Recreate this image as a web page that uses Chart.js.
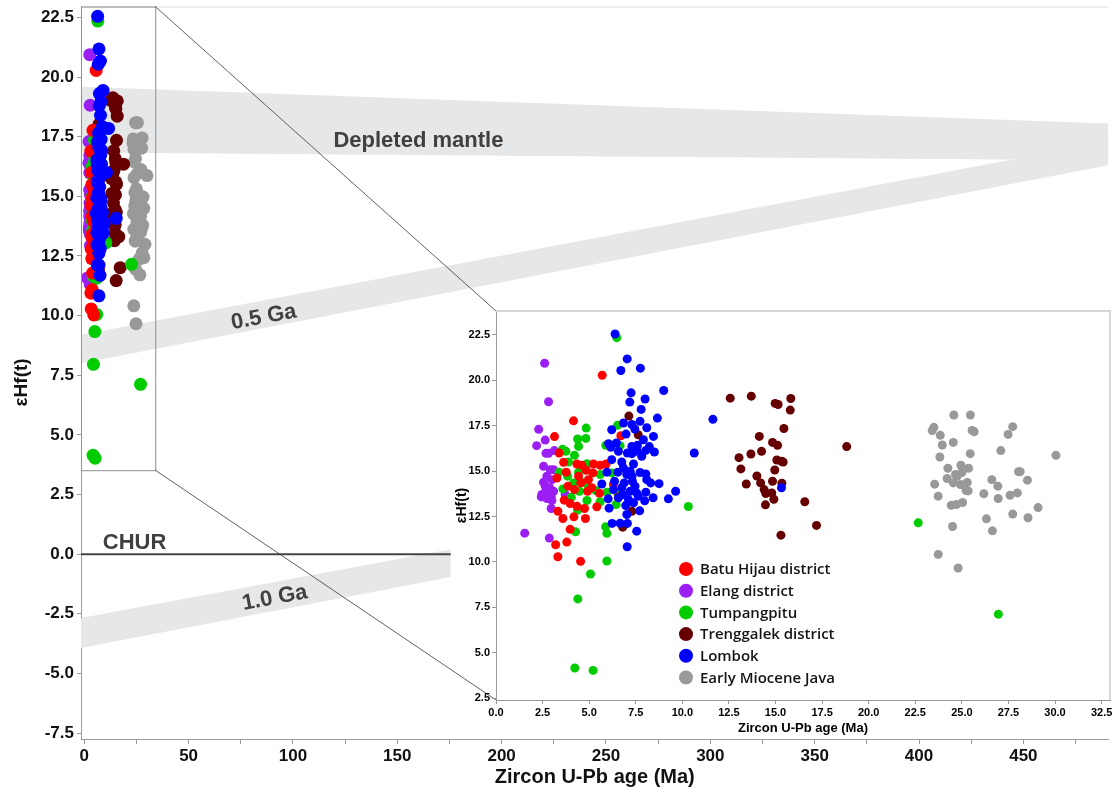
<!DOCTYPE html>
<html>
<head>
<meta charset="utf-8">
<title>εHf(t) vs zircon U-Pb age</title>
<script src="https://cdn.jsdelivr.net/npm/chart.js@4.4.1/dist/chart.umd.min.js"></script>
<style>
  html, body { margin: 0; padding: 0; background: #ffffff; }
  #wrap { position: relative; width: 1115px; height: 790px; overflow: hidden; }
  #main { position: absolute; left: 0; top: 0; }
  #inset { position: absolute; left: 440px; top: 296px; }
</style>
</head>
<body>
<div id="wrap">
  <canvas id="main" width="1115" height="790"></canvas>
  <canvas id="inset" width="675" height="444"></canvas>
</div>
<script>
// ---- samples: [zircon U-Pb age (Ma), εHf(t)] ----
const batuHijau = [
  [5.70,20.28],[4.16,17.77],[3.14,16.90],[6.70,16.95],[3.39,16.00],[3.63,15.49],[4.34,15.39],
  [4.61,15.32],[5.23,15.39],[5.59,15.32],[5.91,15.39],[4.84,15.05],[5.20,14.90],[3.27,14.62],
  [3.77,14.94],[4.55,14.35],[3.86,14.17],[4.21,13.98],[4.91,13.89],[5.14,14.08],[5.55,13.78],
  [6.30,14.26],[6.57,13.58],[3.66,13.40],[3.98,13.21],[4.34,13.07],[4.75,12.94],[5.41,13.03],
  [3.32,12.79],[3.59,12.39],[4.18,12.48],[4.80,12.39],[3.98,11.79],[3.80,11.09],[3.20,10.94],
  [3.32,10.28],[4.54,10.03],[4.96,14.53],[4.43,14.72]
];
const elang = [
  [2.61,20.94],[2.82,18.82],[2.29,17.30],[2.64,16.71],[2.18,16.40],[2.68,15.98],[2.82,15.98],
  [2.55,15.27],[2.91,15.08],[3.09,15.08],[2.73,14.72],[3.00,14.53],[2.64,14.17],[2.88,14.08],
  [3.09,13.89],[2.43,13.58],[2.73,13.49],[3.00,13.38],[2.96,12.94],[3.71,13.71],[1.54,11.58],
  [2.86,11.31],[3.13,16.13],[2.55,14.39],[2.46,13.71],[2.96,13.62],[2.68,13.89]
];
const tumpangpitu = [
  [6.48,22.35],[6.52,17.52],[4.84,17.37],[4.38,16.77],[4.82,16.80],[3.57,16.20],[3.75,16.09],
  [4.43,16.36],[5.89,16.42],[4.21,15.87],[3.89,15.50],[4.88,15.41],[3.39,14.94],[3.84,14.72],
  [4.43,14.94],[5.59,14.81],[6.21,14.90],[3.59,14.02],[4.16,14.35],[4.61,14.39],[4.84,14.31],
  [5.36,13.93],[5.95,13.84],[4.04,13.56],[4.48,13.89],[4.88,13.38],[4.38,12.85],[5.59,13.31],
  [6.45,13.16],[4.27,11.66],[5.88,11.93],[5.95,11.57],[10.32,13.05],[5.95,10.05],[5.07,9.33],
  [4.39,7.96],[4.23,4.15],[5.21,4.02],[6.55,13.71],[6.66,16.40],[22.66,12.15],[26.96,7.12]
];
const trenggalek = [
  [12.57,19.02],[13.70,19.13],[14.98,18.73],[15.14,18.67],[15.82,19.00],[15.79,18.36],[15.45,17.35],
  [14.13,16.91],[14.84,16.58],[15.11,16.42],[14.25,16.09],[13.04,15.74],[13.68,15.94],[15.07,15.61],
  [15.32,15.54],[15.41,15.50],[13.14,15.12],[14.96,15.06],[14.00,14.73],[13.43,14.29],[14.20,14.35],
  [14.84,14.44],[15.34,14.33],[14.39,13.98],[14.48,13.76],[14.80,13.80],[14.91,13.45],[14.46,13.14],
  [16.57,13.31],[15.29,11.47],[17.20,12.01],[18.82,16.35],[7.13,18.03],[7.63,17.00],[6.80,11.91],
  [7.29,12.79]
];
const lombok = [
  [6.39,22.55],[7.04,21.18],[6.70,20.54],[7.75,20.67],[9.00,19.44],[7.25,19.31],[8.00,18.97],
  [7.18,18.80],[7.79,18.40],[11.64,17.85],[8.66,17.92],[6.84,17.65],[7.29,17.57],[7.73,17.74],
  [6.21,17.28],[8.09,17.39],[7.45,17.32],[6.98,17.04],[8.45,16.91],[6.04,16.51],[6.46,16.55],
  [7.91,16.73],[7.59,16.42],[7.29,16.36],[8.23,16.35],[6.16,16.31],[6.57,16.09],[7.05,16.00],
  [7.59,16.09],[8.04,16.14],[8.50,16.05],[10.64,16.00],[6.21,15.63],[6.75,15.50],[7.38,15.39],
  [7.82,15.82],[5.95,14.94],[6.54,14.94],[7.02,14.81],[7.30,14.72],[7.73,14.92],[8.04,14.84],
  [5.68,14.29],[6.36,14.44],[6.88,14.35],[7.32,14.44],[8.30,14.35],[8.75,14.31],[6.30,13.98],
  [6.75,14.08],[7.20,13.89],[7.55,13.80],[8.04,13.84],[9.64,13.89],[6.02,13.47],[7.11,13.43],
  [7.64,13.62],[7.98,13.36],[8.43,13.53],[9.25,13.47],[6.57,13.53],[6.96,13.10],[7.71,12.81],
  [6.07,12.96],[15.32,14.08],[6.23,12.12],[6.66,12.13],[7.05,12.12],[7.02,12.61],[7.55,11.69],
  [7.04,10.83],[7.29,15.96],[6.84,15.17],[7.20,14.99],[7.46,14.17],[8.09,14.53],[6.80,13.71],
  [7.38,13.25]
];
const earlyMioceneJava = [
  [24.57,18.09],[25.46,18.09],[23.50,17.41],[23.41,17.23],[27.73,17.45],[23.84,16.97],[25.55,17.24],
  [25.66,17.17],[27.48,17.02],[24.54,16.58],[23.95,16.44],[27.09,16.13],[25.45,15.96],[30.05,15.87],
  [23.82,15.78],[24.95,15.32],[24.25,15.16],[25.36,15.16],[25.00,14.92],[24.66,14.81],[24.75,14.72],
  [28.04,14.97],[28.13,14.97],[24.21,14.59],[26.61,14.53],[28.52,14.50],[24.54,14.35],[24.93,14.26],
  [25.29,14.37],[23.54,14.28],[26.93,14.17],[25.23,13.93],[25.34,13.91],[26.18,13.75],[27.98,13.80],
  [27.59,13.67],[23.73,13.62],[26.95,13.49],[25.04,13.27],[24.43,13.12],[24.71,13.16],[29.09,12.99],
  [27.73,12.63],[26.32,12.37],[28.55,12.43],[24.50,11.95],[26.64,11.71],[23.73,10.41],[24.80,9.66]
];

// ---- reference evolution bands: [age (Ma), εHf] at both ends ----
const depletedMantleUpper = [[-1.57,19.60],[490.8,18.06]];
const depletedMantleLower = [[-1.57,16.84],[490.8,16.51]];
const crust05GaUpper = [[-1.57,9.20],[490.8,17.30]];
const crust05GaLower = [[-1.57,8.00],[490.8,16.30]];
const crust10GaUpper = [[-1.57,-2.68],[175.6,0.21]];
const crust10GaLower = [[-1.57,-3.93],[175.6,-0.96]];
const churLine = [[-1.57,0],[175.6,0]];

const seriesNames = ['Batu Hijau district','Elang district','Tumpangpitu','Trenggalek district','Lombok','Early Miocene Java'];
const seriesColors = ['#ff0000','#9b1ff2','#00cc00','#660000','#0000ff','#999999'];
const seriesPoints = [batuHijau, elang, tumpangpitu, trenggalek, lombok, earlyMioceneJava];
const seriesOrder = [2, 4, 3, 5, 1, 6];

const FONT = '"Liberation Sans", Arial, Helvetica, sans-serif';
const toXY = pts => pts.map(p => ({x: p[0], y: p[1]}));

function scatterSets(radius) {
  return seriesNames.map((name, i) => ({
    type: 'scatter',
    label: name,
    data: toXY(seriesPoints[i]),
    backgroundColor: seriesColors[i],
    borderWidth: 0,
    pointRadius: radius,
    pointHoverRadius: radius,
    order: seriesOrder[i]
  }));
}

function noEdgePadding(scale) {
  scale.paddingLeft = 0; scale.paddingRight = 0;
  scale.paddingTop = 0; scale.paddingBottom = 0;
}

// ---- inset: frame on top/right and the legend ----
const insetDecor = {
  id: 'insetDecor',
  afterDraw(chart) {
    const {ctx, chartArea: a} = chart;
    ctx.save();
    ctx.strokeStyle = '#d6d6d6';
    ctx.lineWidth = 2;
    ctx.beginPath();
    ctx.moveTo(a.left, a.top);
    ctx.lineTo(a.right, a.top);
    ctx.lineTo(a.right, a.bottom);
    ctx.stroke();

    const lx = a.left + 190, ly = a.top + 258, step = 21.7;
    ctx.font = '600 15px "Open Sans", "Liberation Sans", sans-serif';
    ctx.textBaseline = 'middle';
    ctx.textAlign = 'left';
    chart.data.datasets.forEach((ds, i) => {
      const y = ly + i * step;
      ctx.fillStyle = ds.backgroundColor;
      ctx.beginPath();
      ctx.arc(lx, y, 7, 0, Math.PI * 2);
      ctx.fill();
      ctx.fillStyle = '#141414';
      ctx.fillText(ds.label, lx + 14, y + 1);
    });
    ctx.restore();
  }
};

const insetChart = new Chart(document.getElementById('inset'), {
  type: 'scatter',
  data: { datasets: scatterSets(4.5) },
  options: {
    responsive: false,
    animation: false,
    devicePixelRatio: 1,
    events: [],
    layout: { padding: { top: 15, right: 5, left: 0, bottom: 0 } },
    plugins: { legend: { display: false }, tooltip: { enabled: false } },
    scales: {
      x: {
        type: 'linear', min: 0, max: 32.95,
        afterFit: s => { s.height = 40; noEdgePadding(s); },
        ticks: { stepSize: 2.5, includeBounds: false, autoSkip: false, maxRotation: 0,
                 callback: v => v.toFixed(1), color: '#000', padding: 2,
                 font: { family: FONT, size: 11, weight: 'bold' } },
        grid: { drawOnChartArea: false, tickLength: 4, color: '#9a9a9a' },
        border: { color: '#9a9a9a', width: 1 },
        title: { display: true, text: 'Zircon U-Pb age (Ma)', color: '#000',
                 font: { family: FONT, size: 13, weight: 'bold', lineHeight: 1 },
                 padding: { top: 0, bottom: 5 } }
      },
      y: {
        type: 'linear', min: 2.39, max: 23.82,
        afterFit: s => { s.width = 56; noEdgePadding(s); },
        ticks: { stepSize: 2.5, includeBounds: false, autoSkip: false,
                 callback: v => v.toFixed(1), color: '#000', padding: 2,
                 font: { family: FONT, size: 11, weight: 'bold' } },
        grid: { drawOnChartArea: false, tickLength: 4, color: '#9a9a9a' },
        border: { color: '#9a9a9a', width: 1 },
        title: { display: true, text: 'εHf(t)', color: '#000',
                 font: { family: FONT, size: 14, weight: 'bold', lineHeight: 1 },
                 padding: { top: 15, bottom: 0 } }
      }
    }
  },
  plugins: [insetDecor]
});

// ---- main chart: band labels, axis title, zoom window and its leader lines ----
const insetLeft = 440, insetTop = 296;
const zoomWindow = { ageMax: 34.0, ehfMin: 3.52 };

function bandAngle(xs, ys, a, b) {
  const x1 = xs.getPixelForValue(a[0]), y1 = ys.getPixelForValue(a[1]);
  const x2 = xs.getPixelForValue(b[0]), y2 = ys.getPixelForValue(b[1]);
  return Math.atan2(y2 - y1, x2 - x1);
}

const mainDecor = {
  id: 'mainDecor',
  afterDatasetsDraw(chart) {
    const {ctx, chartArea: a, scales: {x, y}} = chart;
    ctx.save();
    // frame line along the top of the plot
    ctx.strokeStyle = '#dedede';
    ctx.lineWidth = 1;
    ctx.beginPath();
    ctx.moveTo(a.left, a.top + 0.5);
    ctx.lineTo(a.right, a.top + 0.5);
    ctx.stroke();

    ctx.fillStyle = '#404040';
    ctx.font = 'bold 22px ' + FONT;
    ctx.textBaseline = 'alphabetic';
    ctx.textAlign = 'left';
    ctx.fillText('Depleted mantle', x.getPixelForValue(119.4), y.getPixelForValue(17.09));
    ctx.fillText('CHUR', x.getPixelForValue(8.9), y.getPixelForValue(0.21));

    ctx.textAlign = 'center';
    ctx.textBaseline = 'middle';
    const tilted = [
      ['0.5 Ga', 86.0, 9.93, crust05GaUpper],
      ['1.0 Ga', 91.3, -1.84, crust10GaUpper]
    ];
    tilted.forEach(([txt, ax, ey, band]) => {
      ctx.save();
      ctx.translate(x.getPixelForValue(ax), y.getPixelForValue(ey));
      ctx.rotate(bandAngle(x, y, band[0], band[1]));
      ctx.fillText(txt, 0, 0);
      ctx.restore();
    });

    // vertical axis title
    ctx.save();
    ctx.fillStyle = '#111';
    ctx.font = 'bold 19px ' + FONT;
    ctx.translate(22, y.getPixelForValue(7.2));
    ctx.rotate(-Math.PI / 2);
    ctx.fillText('εHf(t)', 0, 0);
    ctx.restore();

    // zoom window over the young samples
    const rx1 = a.left, rx2 = x.getPixelForValue(zoomWindow.ageMax);
    const ry1 = a.top, ry2 = y.getPixelForValue(zoomWindow.ehfMin);
    ctx.strokeStyle = '#8f8f8f';
    ctx.lineWidth = 1;
    ctx.strokeRect(rx1 + 0.5, ry1 + 0.5, rx2 - rx1, ry2 - ry1);

    // leader lines to the enlarged plot
    const ia = insetChart.chartArea;
    ctx.strokeStyle = '#3a3a3a';
    ctx.lineWidth = 0.8;
    ctx.beginPath();
    ctx.moveTo(rx2, ry1);
    ctx.lineTo(insetLeft + ia.left, insetTop + ia.top);
    ctx.moveTo(rx2, ry2);
    ctx.lineTo(insetLeft + ia.left, insetTop + ia.bottom);
    ctx.stroke();
    ctx.restore();
  }
};

const bandColor = '#e6e7e8';
function bandLine(label, pts, fill) {
  return {
    type: 'line', label, data: toXY(pts), borderWidth: 0, borderColor: 'rgba(0,0,0,0)',
    backgroundColor: bandColor, pointRadius: 0, fill, order: 20, tension: 0
  };
}

const mainChart = new Chart(document.getElementById('main'), {
  type: 'scatter',
  data: {
    datasets: [
      bandLine('DM upper', depletedMantleUpper, false),
      bandLine('DM lower', depletedMantleLower, '-1'),
      bandLine('0.5 Ga upper', crust05GaUpper, false),
      bandLine('0.5 Ga lower', crust05GaLower, '-1'),
      bandLine('1.0 Ga upper', crust10GaUpper, false),
      bandLine('1.0 Ga lower', crust10GaLower, '-1'),
      { type: 'line', label: 'CHUR', data: toXY(churLine), borderColor: '#444444', borderWidth: 2,
        pointRadius: 0, fill: false, order: 15 },
      ...scatterSets(6.5)
    ]
  },
  options: {
    responsive: false,
    animation: false,
    devicePixelRatio: 1,
    events: [],
    layout: { padding: { top: 6, right: 0, left: 0, bottom: 0 } },
    plugins: { legend: { display: false }, tooltip: { enabled: false } },
    scales: {
      x: {
        type: 'linear', min: -1.57, max: 490.8,
        afterFit: s => { s.height = 51; noEdgePadding(s); },
        ticks: { stepSize: 25, includeBounds: false, autoSkip: false, maxRotation: 0,
                 callback: v => (Math.round(v) % 50 === 0 ? String(Math.round(v)) : ''),
                 color: '#111', padding: 2,
                 font: { family: FONT, size: 17, weight: 'bold' } },
        grid: { drawOnChartArea: false, tickLength: 5, color: '#9a9a9a' },
        border: { color: '#9a9a9a', width: 1 },
        title: { display: true, text: 'Zircon U-Pb age (Ma)', color: '#111',
                 font: { family: FONT, size: 20, weight: 'bold', lineHeight: 1 },
                 padding: { top: 0, bottom: 3 } }
      },
      y: {
        type: 'linear', min: -7.75, max: 22.96,
        afterFit: s => { s.width = 81; noEdgePadding(s); },
        ticks: { stepSize: 2.5, includeBounds: false, autoSkip: false,
                 callback: v => v.toFixed(1), color: '#111', padding: 3,
                 font: { family: FONT, size: 17, weight: 'bold' } },
        grid: { drawOnChartArea: false, tickLength: 4, color: '#9a9a9a' },
        border: { color: '#9a9a9a', width: 1 },
        title: { display: false }
      }
    }
  },
  plugins: [mainDecor]
});
</script>
</body>
</html>
